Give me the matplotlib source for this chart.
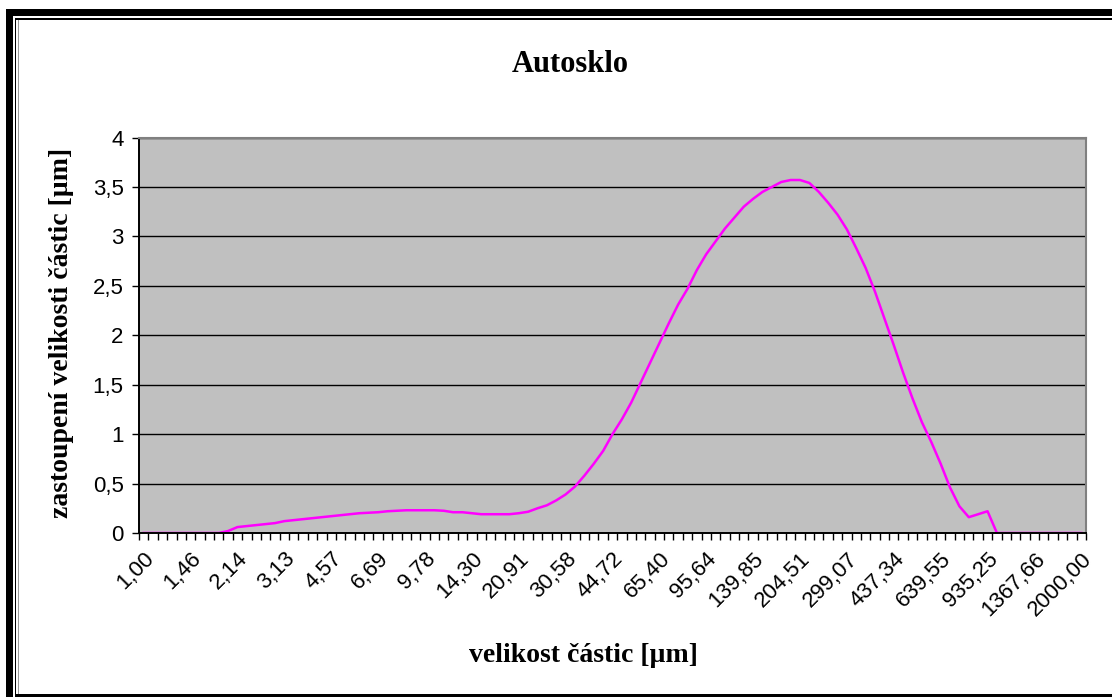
import numpy as np
import matplotlib
matplotlib.use('Agg')
import matplotlib.pyplot as plt
from matplotlib.patches import Rectangle
from matplotlib.ticker import FixedLocator, FuncFormatter

# particle size distribution, 101 size classes (1 - 2000 um)
zastoupeni = [
    0, 0, 0, 0, 0, 0, 0, 0, 0, 0.02,
    0.06, 0.07, 0.08, 0.09, 0.10, 0.12, 0.13, 0.14, 0.15, 0.16,
    0.17, 0.18, 0.19, 0.20, 0.205, 0.21, 0.22, 0.225, 0.23, 0.23,
    0.23, 0.23, 0.225, 0.21, 0.21, 0.20, 0.19, 0.19, 0.19, 0.19,
    0.20, 0.215, 0.25, 0.28, 0.33, 0.39, 0.47, 0.58, 0.70, 0.83,
    1.00, 1.15, 1.32, 1.52, 1.72, 1.92, 2.12, 2.31, 2.47, 2.66,
    2.82, 2.95, 3.08, 3.19, 3.30, 3.38, 3.45, 3.50, 3.55, 3.57,
    3.57, 3.54, 3.45, 3.34, 3.22, 3.07, 2.88, 2.68, 2.44, 2.17,
    1.90, 1.62, 1.36, 1.12, 0.92, 0.70, 0.46, 0.27, 0.16, 0.19,
    0.22, 0, 0, 0, 0, 0, 0, 0, 0, 0,
    0,
]

# category labels shown on the axis (every 5th class)
popisky = ['1,00', '1,46', '2,14', '3,13', '4,57', '6,69', '9,78', '14,30',
           '20,91', '30,58', '44,72', '65,40', '95,64', '139,85', '204,51',
           '299,07', '437,34', '639,55', '935,25', '1367,66', '2000,00']

W, H = 1112, 697
fig = plt.figure(figsize=(W / 100, H / 100), dpi=100)
ax = fig.add_axes([139 / W, 1 - 533 / H, (1086 - 139) / W, (533 - 137.5) / H])

x = np.arange(len(zastoupeni))
ax.plot(x, zastoupeni, color='#FF00FF', lw=1.8, solid_joinstyle='round')

ax.set_facecolor('#C0C0C0')
ax.set_xlim(-0.5, len(zastoupeni) - 0.5)
ax.set_ylim(0, 4)
ax.set_yticks(np.arange(0, 4.01, 0.5))
ax.yaxis.set_major_formatter(FuncFormatter(lambda v, p: ('%g' % v).replace('.', ',')))
ax.grid(axis='y', color='black', lw=1)
ax.set_axisbelow(True)

ax.xaxis.set_major_locator(FixedLocator(np.arange(0, len(zastoupeni), 5)))
ax.set_xticklabels(popisky, rotation=45, ha='right', rotation_mode='anchor')
ax.xaxis.set_minor_locator(FixedLocator(np.arange(-0.5, len(zastoupeni), 1)))
ax.tick_params(axis='x', which='major', length=0, labelsize=16, pad=11)
ax.tick_params(axis='x', which='minor', length=5, width=1, direction='out')
ax.tick_params(axis='y', length=5, width=1, labelsize=16, pad=6)
for lab in ax.get_xticklabels() + ax.get_yticklabels():
    lab.set_fontfamily('Liberation Sans')

for s in ['top', 'right']:
    ax.spines[s].set_color('#808080')
    ax.spines[s].set_linewidth(1.5)
for s in ['left', 'bottom']:
    ax.spines[s].set_color('black')
    ax.spines[s].set_linewidth(1.4)

fig.text(570 / W, 1 - 65 / H, 'Autosklo', ha='center', va='center',
         fontsize=22, fontweight='bold', family='Liberation Serif')
fig.text(583 / W, 1 - 655 / H, 'velikost částic [µm]', ha='center', va='center',
         fontsize=20, fontweight='bold', family='Liberation Serif')
fig.text(62 / W, 1 - 333 / H, 'zastoupení velikosti částic [µm]', ha='center',
         va='center', rotation=90, fontsize=20, fontweight='bold',
         family='Liberation Serif')

# frame around the chart
def px(x0, y0, w, h, c):
    fig.add_artist(Rectangle((x0 / W, 1 - (y0 + h) / H), w / W, h / H,
                             transform=fig.transFigure, color=c, lw=0))

px(6, 9, 7, H - 9, 'black')
px(6, 9, W - 6, 7, 'black')
px(14.5, 18, 1.8, H - 18, 'black')
px(14.5, 18, W - 14.5, 2, 'black')
px(14.5, 694, W - 14.5, 3, 'black')
px(17.5, 20, 1.5, H - 23, '#999999')

fig.savefig('out.png', dpi=100)
